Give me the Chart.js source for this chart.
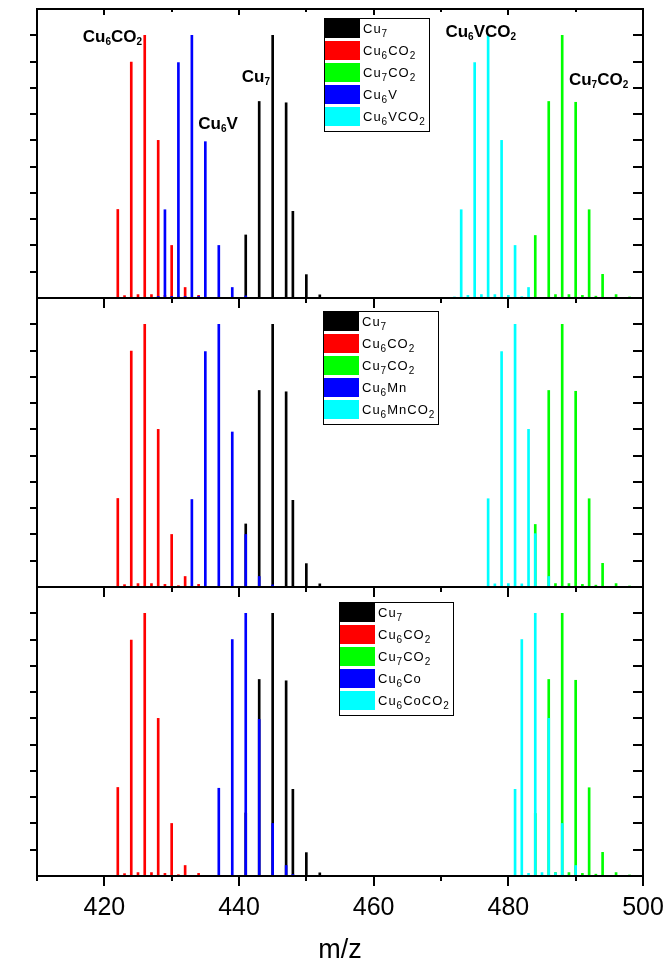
<!DOCTYPE html>
<html>
<head>
<meta charset="utf-8">
<script src="https://cdn.jsdelivr.net/npm/chart.js@4.4.1/dist/chart.umd.min.js"></script>
<style>
  html, body { margin: 0; padding: 0; background: #fff; }
  #wrap { width: 671px; height: 964px; }
</style>
</head>
<body>
<div id="wrap"><canvas id="spec" width="671" height="964"></canvas></div>
<script>
// axis
const xMin = 410, xMax = 500;
const xTickValues = [420, 440, 460, 480, 500];
const xMinorValues = [410, 430, 450, 470, 490];
const yTickValues = [0.1, 0.2, 0.3, 0.4, 0.5, 0.6, 0.7, 0.8, 0.9, 1.0];

// series shared by all three panels
const cu7X = [441, 443, 445, 447, 448, 450, 452];
const cu7Y = [0.24, 0.748, 1.0, 0.743, 0.33, 0.089, 0.012];
const cu6co2X = [422, 423, 424, 425, 426, 427, 428, 429, 430, 431, 432, 434];
const cu6co2Y = [0.337, 0.009, 0.898, 0.013, 1.0, 0.013, 0.6, 0.01, 0.2, 0.005, 0.04, 0.01];
const cu7co2X = [484, 486, 487, 488, 489, 490, 491, 492, 493, 494, 496, 498];
const cu7co2Y = [0.238, 0.748, 0.013, 1.0, 0.013, 0.745, 0.01, 0.336, 0.007, 0.09, 0.013, 0.004];

// panel 1 : V
const cu6vX = [428, 429, 430, 431, 432, 433, 434, 435, 437, 439, 441];
const cu6vY = [0.006, 0.336, 0.006, 0.896, 0.006, 1.0, 0.006, 0.595, 0.2, 0.04, 0.008];
const cu6vco2X = [472, 473, 474, 475, 476, 477, 478, 479, 480, 481, 482, 483];
const cu6vco2Y = [0.004, 0.336, 0.01, 0.896, 0.013, 1.0, 0.013, 0.6, 0.01, 0.2, 0.005, 0.04];

// panel 2 : Mn
const cu6mnX = [433, 435, 437, 439, 441, 443, 445];
const cu6mnY = [0.333, 0.896, 1.0, 0.59, 0.2, 0.04, 0.008];
const cu6mnco2X = [477, 478, 479, 480, 481, 482, 483, 484, 486];
const cu6mnco2Y = [0.336, 0.012, 0.896, 0.013, 1.0, 0.012, 0.6, 0.203, 0.04];

// panel 3 : Co
const cu6coX = [437, 439, 441, 443, 445, 447, 448];
const cu6coY = [0.334, 0.9, 1.0, 0.596, 0.2, 0.04, 0.006];
const cu6coco2X = [481, 482, 483, 484, 485, 486, 487, 488, 490];
const cu6coco2Y = [0.33, 0.9, 0.01, 1.0, 0.013, 0.6, 0.012, 0.2, 0.04];

// names, "_" marks a one-character subscript
const legend1 = ['Cu_7', 'Cu_6CO_2', 'Cu_7CO_2', 'Cu_6V', 'Cu_6VCO_2'];
const legend2 = ['Cu_7', 'Cu_6CO_2', 'Cu_7CO_2', 'Cu_6Mn', 'Cu_6MnCO_2'];
const legend3 = ['Cu_7', 'Cu_6CO_2', 'Cu_7CO_2', 'Cu_6Co', 'Cu_6CoCO_2'];

const seriesColors = ['#000000', '#ff0000', '#00ff00', '#0000ff', '#00ffff'];
const drawOrder = [5, 4, 3, 2, 1];   // cyan on top, black at the back

const panels = [
  { id: 'p1', names: legend1, xs: [cu7X, cu6co2X, cu7co2X, cu6vX, cu6vco2X], ys: [cu7Y, cu6co2Y, cu7co2Y, cu6vY, cu6vco2Y] },
  { id: 'p2', names: legend2, xs: [cu7X, cu6co2X, cu7co2X, cu6mnX, cu6mnco2X], ys: [cu7Y, cu6co2Y, cu7co2Y, cu6mnY, cu6mnco2Y] },
  { id: 'p3', names: legend3, xs: [cu7X, cu6co2X, cu7co2X, cu6coX, cu6coco2X], ys: [cu7Y, cu6co2Y, cu7co2Y, cu6coY, cu6coco2Y] }
];

// where the legend box sits: left edge in m/z, px below the panel top
const legendPlacement = { p1: { x: 452.6, dy: 9 }, p2: { x: 452.5, dy: 13 }, p3: { x: 454.9, dy: 15 } };

// peak labels of the top panel
const stickLabels = [
  { text: 'Cu_6CO_2', x: 421.2, y: 0.976 },
  { text: 'Cu_7', x: 442.5, y: 0.822 },
  { text: 'Cu_6V', x: 436.9, y: 0.643 },
  { text: 'Cu_6VCO_2', x: 475.9, y: 0.995 },
  { text: 'Cu_7CO_2', x: 493.4, y: 0.811 }
];

const FONT = '"Liberation Sans", Arial, sans-serif';
const labelStyle = { font: 'bold 17px ' + FONT, subFont: 'bold 10px ' + FONT, subShift: 3, spacing: '0px' };
const legendStyle = { font: '13px ' + FONT, subFont: '10px ' + FONT, subShift: 4, spacing: '1px' };

function richParts(s) {
  const out = []; let buf = '';
  for (let i = 0; i < s.length; i++) {
    if (s[i] === '_' && i + 1 < s.length) {
      if (buf) out.push({ t: buf, sub: false });
      buf = '';
      out.push({ t: s[i + 1], sub: true });
      i++;
    } else buf += s[i];
  }
  if (buf) out.push({ t: buf, sub: false });
  return out;
}

function measureRich(ctx, s, st) {
  ctx.letterSpacing = st.spacing;
  return richParts(s).reduce((w, p) => { ctx.font = p.sub ? st.subFont : st.font; return w + ctx.measureText(p.t).width; }, 0);
}

function drawRich(ctx, s, x, y, st, center) {
  const parts = richParts(s);
  ctx.letterSpacing = st.spacing;
  const widths = parts.map(p => { ctx.font = p.sub ? st.subFont : st.font; return ctx.measureText(p.t).width; });
  const total = widths.reduce((a, b) => a + b, 0);
  let cx = center ? x - total / 2 : x;
  ctx.textAlign = 'left'; ctx.textBaseline = 'alphabetic'; ctx.fillStyle = '#000';
  parts.forEach((p, i) => {
    ctx.font = p.sub ? st.subFont : st.font;
    ctx.fillText(p.t, cx, p.sub ? y + st.subShift : y);
    cx += widths[i];
  });
  ctx.letterSpacing = '0px';
}

const framePlugin = {
  id: 'frame',
  afterDatasetsDraw(chart) {
    const { ctx, chartArea: { left, right } } = chart;
    const xs = chart.scales.x;
    ctx.save();
    ctx.strokeStyle = '#000'; ctx.lineWidth = 2;
    panels.forEach(p => {
      const s = chart.scales[p.id];
      const top = Math.round(s.top), bottom = Math.round(s.bottom);
      ctx.strokeRect(left, top, right - left, bottom - top);
      ctx.beginPath();
      xTickValues.forEach(v => {
        const px = Math.round(xs.getPixelForValue(v));
        ctx.moveTo(px, top); ctx.lineTo(px, top + 6);
        ctx.moveTo(px, bottom); ctx.lineTo(px, bottom + 10);
      });
      xMinorValues.forEach(v => {
        const px = Math.round(xs.getPixelForValue(v));
        ctx.moveTo(px, top); ctx.lineTo(px, top + 3);
        ctx.moveTo(px, bottom); ctx.lineTo(px, bottom + 5);
      });
      yTickValues.forEach(v => {
        const py = Math.round(s.getPixelForValue(v));
        ctx.moveTo(left, py); ctx.lineTo(left - 7, py);
        ctx.moveTo(right, py); ctx.lineTo(right - 10, py);
      });
      ctx.stroke();
    });
    ctx.restore();
  },
  afterDraw(chart) {
    const { ctx } = chart;
    const xs = chart.scales.x;
    ctx.save();
    // legends
    panels.forEach(p => {
      const s = chart.scales[p.id];
      const pl = legendPlacement[p.id];
      const L = Math.round(xs.getPixelForValue(pl.x)) + 0.5;
      const T = Math.round(s.top + pl.dy) + 0.5;
      const textW = Math.max(...p.names.map(n => measureRich(ctx, n, legendStyle)));
      const W = Math.round(39 + textW + 3), H = p.names.length * 22 + 3;
      ctx.fillStyle = '#fff'; ctx.fillRect(L, T, W, H);
      p.names.forEach((n, i) => {
        ctx.fillStyle = seriesColors[i];
        ctx.fillRect(L + 0.5, T + 0.5 + i * 22, 35, 19);
        drawRich(ctx, n, L + 38.5, T + 14.5 + i * 22, legendStyle, false);
      });
      ctx.strokeStyle = '#000'; ctx.lineWidth = 1;
      ctx.strokeRect(L, T, W, H);
    });
    // peak labels
    const s1 = chart.scales.p1;
    stickLabels.forEach(l => {
      drawRich(ctx, l.text, xs.getPixelForValue(l.x), s1.getPixelForValue(l.y), labelStyle, true);
    });
    ctx.restore();
  }
};

const datasets = [];
panels.forEach(p => {
  p.names.forEach((n, i) => {
    datasets.push({
      label: n.replace(/_/g, ''),
      data: p.xs[i].map((x, k) => ({ x: x, y: p.ys[i][k] })),
      backgroundColor: seriesColors[i],
      borderWidth: 0,
      barThickness: 2,
      grouped: false,
      order: drawOrder[i],
      yAxisID: p.id
    });
  });
});

function panelAxis(w) {
  return {
    type: 'linear', axis: 'y', position: 'left',
    min: 0, max: 1.1,
    stack: 'panels', stackWeight: 1, weight: w,
    ticks: { display: false },
    grid: { display: false, drawTicks: false },
    border: { display: false },
    afterFit: s => { s.width = 37; s.paddingTop = 0; s.paddingBottom = 0; }
  };
}

Chart.defaults.font.family = FONT;
Chart.defaults.color = '#000';

new Chart(document.getElementById('spec').getContext('2d'), {
  type: 'bar',
  data: { datasets: datasets },
  options: {
    responsive: false,
    maintainAspectRatio: false,
    animation: false,
    devicePixelRatio: 1,
    layout: { padding: { top: 9, right: 28, left: 0, bottom: 0 } },
    plugins: { legend: { display: false }, tooltip: { enabled: false } },
    scales: {
      x: {
        type: 'linear', position: 'bottom',
        min: xMin, max: xMax, offset: false,
        afterBuildTicks: s => { s.ticks = xTickValues.map(v => ({ value: v })); },
        ticks: { font: { size: 25 }, color: '#000', padding: 17, maxRotation: 0, autoSkip: false },
        grid: { display: false, drawTicks: false, offset: false },
        border: { display: false },
        title: { display: true, text: 'm/z', font: { size: 27, lineHeight: 1 }, color: '#000', padding: 0 },
        afterFit: s => { s.height = 88; s.paddingLeft = 0; s.paddingRight = 0; }
      },
      p1: panelAxis(3),
      p2: panelAxis(2),
      p3: panelAxis(1)
    }
  },
  plugins: [framePlugin]
});
</script>
</body>
</html>
